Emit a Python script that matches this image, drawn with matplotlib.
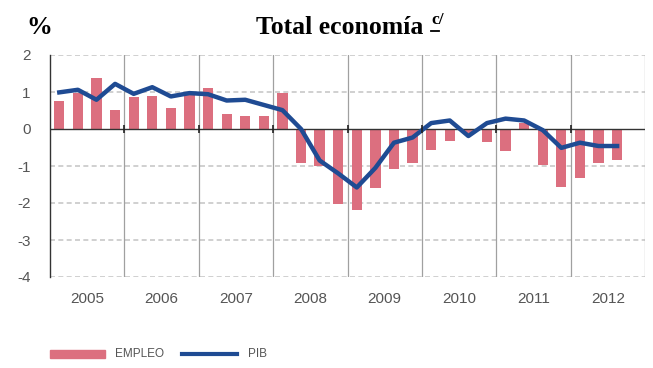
import matplotlib
matplotlib.use("Agg")
import matplotlib.pyplot as plt
from matplotlib.patches import Rectangle
from matplotlib.lines import Line2D
import numpy as np

# Quarterly year-on-year change, %, 2005 Q1 - 2012 Q3
years = ["2005", "2006", "2007", "2008", "2009", "2010", "2011", "2012"]
empleo = [0.77, 0.97, 1.37, 0.51,
          0.86, 0.88, 0.57, 0.93,
          1.11, 0.40, 0.35, 0.34,
          0.97, -0.93, -1.00, -2.02,
          -2.20, -1.60, -1.08, -0.92,
          -0.58, -0.32, -0.10, -0.34,
          -0.60, 0.17, -0.97, -1.56,
          -1.32, -0.93, -0.83]
pib = [0.99, 1.06, 0.79, 1.22,
       0.95, 1.13, 0.88, 0.97,
       0.94, 0.77, 0.79, 0.65,
       0.51, 0.00, -0.85, -1.20,
       -1.58, -1.05, -0.37, -0.23,
       0.16, 0.23, -0.19, 0.16,
       0.28, 0.23, -0.03, -0.51,
       -0.37, -0.46, -0.46]

BAR_COLOR = "#dc6f7f"
LINE_COLOR = "#1f4b93"
TEXT_GRAY = "#555555"

W, H = 653, 368
fig = plt.figure(figsize=(W / 100, H / 100), dpi=100)
ax = fig.add_axes([50 / W, 1 - 277 / H, 595 / W, 222 / H])

x = np.arange(len(empleo)) + 0.5
ax.bar(x, empleo, width=0.55, color=BAR_COLOR, zorder=2)
ax.plot(np.arange(len(pib)) + 0.5, pib, color=LINE_COLOR, lw=3.2,
        solid_joinstyle="round", zorder=4)

nq = 4 * len(years)
ax.set_xlim(0, nq)
ax.set_ylim(-4, 2)

# horizontal dashed grid
for yv in range(-4, 3):
    if yv != 0:
        ax.axhline(yv, color="#c8c8c8", lw=1.2, ls=(0, (3, 2)), zorder=1)
ax.axhline(0, color="#333333", lw=1.0, zorder=3)

# year separators
bounds = np.arange(0, nq + 1, 4)
for b in bounds[1:]:
    ax.axvline(b, color="#a0a0a0", lw=0.9, zorder=1)
ax.plot(bounds[1:-1], np.zeros(len(bounds) - 2), ls="none", marker="|",
        ms=6, mew=1.2, color="#222222", zorder=5)

ax.set_xticks(np.arange(2, nq, 4))
ax.set_xticklabels(years)
ax.set_yticks(range(-4, 3))
ax.set_yticklabels([str(v) for v in range(-4, 3)])
ax.tick_params(axis="x", length=0, pad=11, labelsize=11, labelcolor=TEXT_GRAY)
ax.tick_params(axis="y", length=0, pad=14, labelsize=11, labelcolor=TEXT_GRAY)
for lab in ax.get_xticklabels() + ax.get_yticklabels():
    lab.set_family(["Liberation Sans", "DejaVu Sans"])

for side in ["top", "right", "bottom"]:
    ax.spines[side].set_visible(False)
ax.spines["left"].set_color("#333333")
ax.spines["left"].set_linewidth(1.0)

# titles
fig.text(39 / W, 1 - 27 / H, "%", ha="center", va="center",
         family="Liberation Serif", weight="bold", fontsize=18.5)
fig.text(340 / W, 1 - 27 / H, "Total economía", ha="center", va="center",
         family="Liberation Serif", weight="bold", fontsize=18.5)
fig.text(431 / W, 1 - 20 / H, "c/", ha="left", va="center",
         family="Liberation Serif", weight="bold", fontsize=12.5)
fig.lines.append(Line2D([431 / W, 439 / W], [1 - 31 / H, 1 - 31 / H],
                        transform=fig.transFigure, color="black", lw=1.3))

# legend
ly = 1 - 354 / H
fig.patches.append(Rectangle((50 / W, ly - 4 / H), 55 / W, 8 / H,
                             transform=fig.transFigure, color=BAR_COLOR))
fig.text(115 / W, ly, "EMPLEO", ha="left", va="center", color=TEXT_GRAY,
         fontsize=8.5, family=["Liberation Sans Narrow", "Liberation Sans"])
fig.lines.append(Line2D([182 / W, 237 / W], [ly, ly], transform=fig.transFigure,
                        color=LINE_COLOR, lw=3))
fig.text(248 / W, ly, "PIB", ha="left", va="center", color=TEXT_GRAY,
         fontsize=8.5, family=["Liberation Sans Narrow", "Liberation Sans"])

fig.savefig("out.png", dpi=100)
